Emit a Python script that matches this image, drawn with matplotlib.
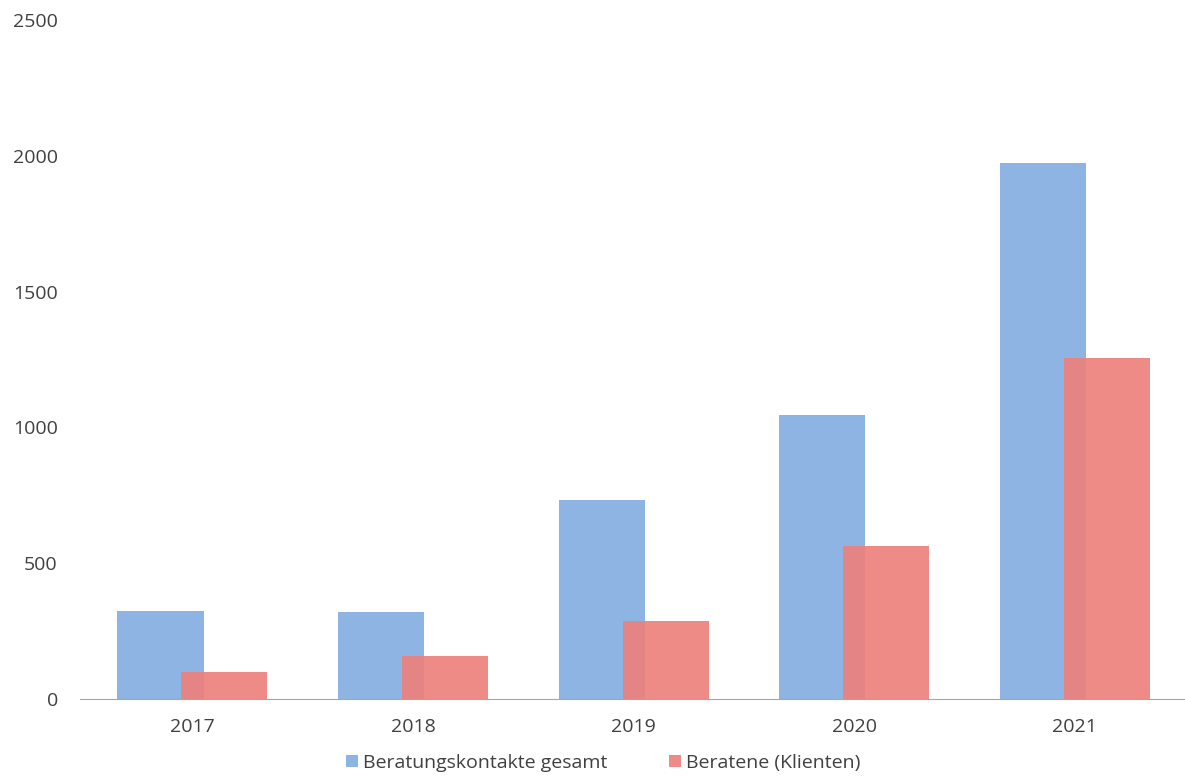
import matplotlib
matplotlib.use("Agg")
import matplotlib.pyplot as plt
import numpy as np

years = ["2017", "2018", "2019", "2020", "2021"]
kontakte = [324, 320, 733, 1046, 1972]
beratene = [99, 158, 287, 563, 1255]
series_names = ["Beratungskontakte gesamt", "Beratene (Klienten)"]

plt.rcParams['font.family'] = ['Open Sans', 'DejaVu Sans']
W, H = 1185, 778
fig = plt.figure(figsize=(W/100, H/100), dpi=100)
ax = fig.add_axes([80/W, 1-699/H, 1-80/W, (699-20)/H])

x = np.arange(len(years))
w = 0.39
off = 0.145
blue = "#8DB4E2"
red = "#EE7F7A"
ax.bar(x - off, kontakte, w, color=blue, label=series_names[0], zorder=2)
ax.bar(x + off, beratene, w, color=red, alpha=0.9, label=series_names[1], zorder=3)

ax.set_xlim(-0.51, 4.5)
ax.set_ylim(0, 2500)
ax.set_yticks(range(0, 2501, 500))
ax.set_xticks(x)
ax.set_xticklabels(years)
for s in ["top", "right", "left"]:
    ax.spines[s].set_visible(False)
ax.spines["bottom"].set_color("#A6A6A6")
ax.tick_params(axis="both", length=0, colors="#404040", labelsize=14)
ax.tick_params(axis="x", pad=14)
ax.tick_params(axis="y", pad=16)

fig.legend(loc="center", bbox_to_anchor=(603/W, 1-763/H), ncol=2, frameon=False,
           fontsize=14, handlelength=0.6, handleheight=0.6, handletextpad=0.25,
           columnspacing=3.2, labelcolor="#404040")
fig.savefig("out.png", dpi=100)
